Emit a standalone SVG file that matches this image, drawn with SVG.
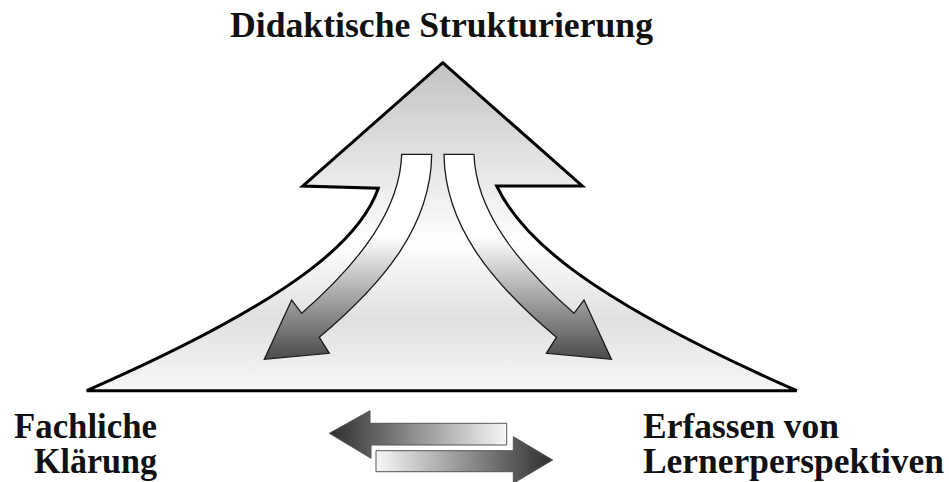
<svg xmlns="http://www.w3.org/2000/svg" width="949" height="482" viewBox="0 0 949 482">
<style>
.lbl{font-family:"Liberation Serif","DejaVu Serif",serif;font-weight:bold;font-size:35px;fill:#111}
.main{stroke:#000;stroke-width:3;stroke-linejoin:miter}
.curv{fill:url(#gArrow);stroke:#1a1a1a;stroke-width:1.3;stroke-linejoin:miter}
.flat{stroke:#555;stroke-width:1}
</style>
<defs>
<linearGradient id="gMain" gradientUnits="userSpaceOnUse" x1="0" y1="62" x2="0" y2="391">
<stop offset="0" stop-color="#c2c2c2"/>
<stop offset="0.55" stop-color="#ffffff"/>
<stop offset="0.78" stop-color="#e0e0e0"/>
<stop offset="1" stop-color="#f7f7f7"/>
</linearGradient>
<linearGradient id="gArrow" x1="0" y1="0" x2="0" y2="1">
<stop offset="0" stop-color="#ffffff"/>
<stop offset="0.4" stop-color="#ffffff"/>
<stop offset="1" stop-color="#4a4a4a"/>
</linearGradient>
<linearGradient id="gLeft" x1="0" y1="0" x2="1" y2="0">
<stop offset="0" stop-color="#2e2e2e"/>
<stop offset="1" stop-color="#f7f7f7"/>
</linearGradient>
<linearGradient id="gRight" x1="0" y1="0" x2="1" y2="0">
<stop offset="0" stop-color="#f7f7f7"/>
<stop offset="1" stop-color="#2e2e2e"/>
</linearGradient>
</defs>
<rect width="949" height="482" fill="#fff"/>

<g id="shape-main">
<path class="main" fill="url(#gMain)" d="M442.7,62.7 L582.3,186 L496.7,186 C520,235 580,295 796.7,390.7 L86.7,390.7 C305,295 362,235 378.3,188.3 L302.7,186 Z"/>
</g>

<g id="connectors">
<path id="arrow-left-down" class="curv" d="M401.7,154.3 L431.7,154.3 C431,225 385,282 319.3,337.3 L329.3,353.3 L264.3,359.3 L291.7,300 L301.7,313.3 C360,262 400,210 401.7,154.3 Z"/>
<path id="arrow-right-down" class="curv" transform="translate(875.7,0) scale(-1,1)" d="M401.7,154.3 L431.7,154.3 C431,225 385,282 319.3,337.3 L329.3,353.3 L264.3,359.3 L291.7,300 L301.7,313.3 C360,262 400,210 401.7,154.3 Z"/>
<polygon id="arrow-to-left" class="flat" fill="url(#gLeft)" points="329.3,433.3 370,410.7 370,423.3 506.7,423.3 506.7,445 371,445 371,458.3"/>
<polygon id="arrow-to-right" class="flat" fill="url(#gRight)" points="376,450.7 513.3,450.7 513.3,436.7 552.7,460 513.3,483.3 513.3,471.7 376,471.7"/>
</g>

<g id="node-top">
<text class="lbl" x="441.5" y="37" font-size="36" text-anchor="middle" textLength="423" lengthAdjust="spacingAndGlyphs">Didaktische Strukturierung</text>
</g>
<g id="node-left">
<text class="lbl" x="157" y="437.5" text-anchor="end" textLength="143" lengthAdjust="spacingAndGlyphs">Fachliche</text>
<text class="lbl" x="157" y="473" text-anchor="end" textLength="123" lengthAdjust="spacingAndGlyphs">Klärung</text>
</g>
<g id="node-right">
<text class="lbl" x="643" y="437.5" textLength="196" lengthAdjust="spacingAndGlyphs">Erfassen von</text>
<text class="lbl" x="643" y="473" textLength="301" lengthAdjust="spacingAndGlyphs">Lernerperspektiven</text>
</g>
</svg>
